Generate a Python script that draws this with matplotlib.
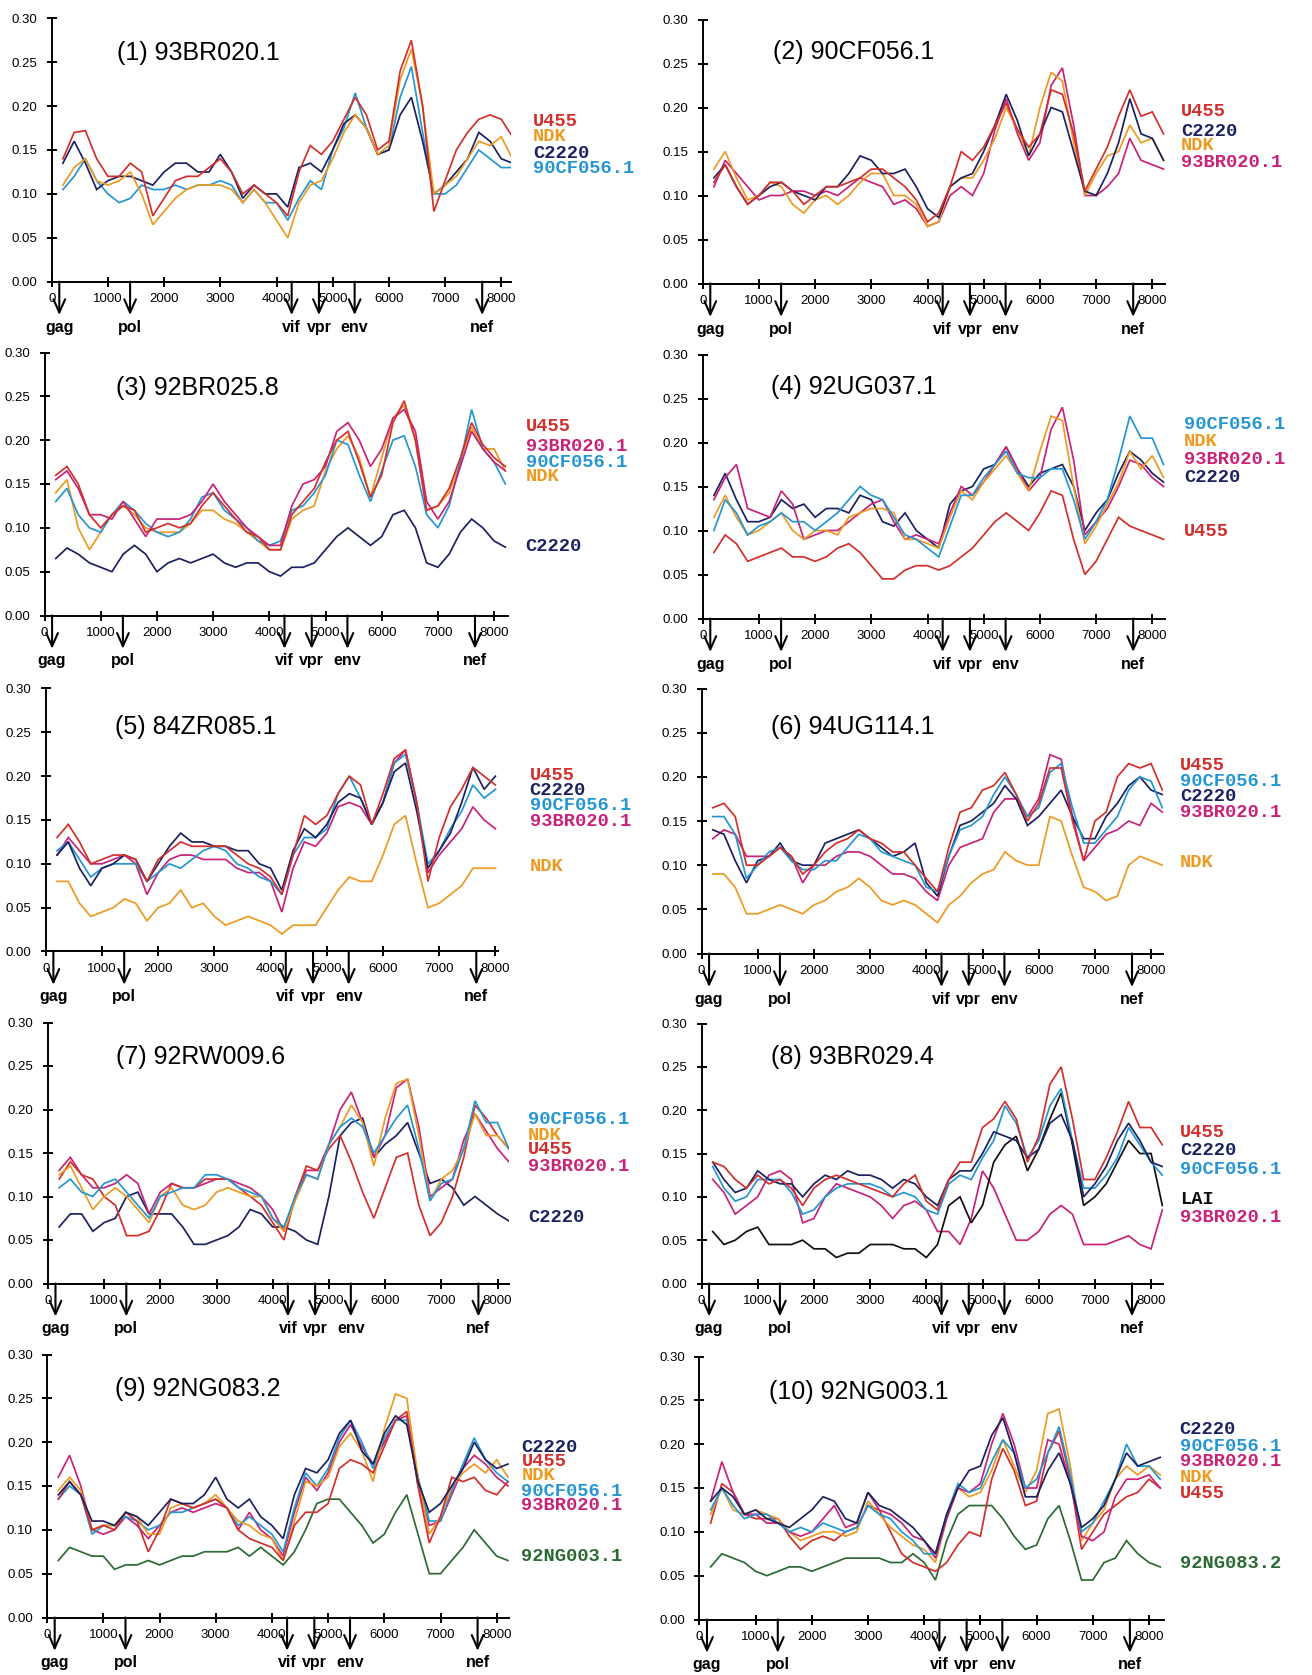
import matplotlib
matplotlib.use("Agg")
import matplotlib.pyplot as plt

plt.rcParams['font.family'] = ['Liberation Sans', 'DejaVu Sans']

# ---------------- data ----------------
positions = list(range(200, 8201, 200))      # window centres (bp)
positions_p5 = list(range(200, 8001, 200))   # panel 5 ends earlier

x_ticks = [0, 1000, 2000, 3000, 4000, 5000, 6000, 7000, 8000]
y_ticks = [0.00, 0.05, 0.10, 0.15, 0.20, 0.25, 0.30]

genes = ["gag", "pol", "vif", "vpr", "env", "nef"]
gene_starts = [135, 1395, 4270, 4755, 5390, 7660]

titles = ["(1) 93BR020.1", "(2) 90CF056.1", "(3) 92BR025.8", "(4) 92UG037.1",
          "(5) 84ZR085.1", "(6) 94UG114.1", "(7) 92RW009.6", "(8) 93BR029.4",
          "(9) 92NG083.2", "(10) 92NG003.1"]

# Panel 1
p1_U455 = [0.140, 0.170, 0.172, 0.140, 0.120, 0.120, 0.135, 0.125, 0.075, 0.095,
           0.115, 0.120, 0.120, 0.130, 0.140, 0.125, 0.100, 0.110, 0.100, 0.090,
           0.075, 0.125, 0.155, 0.145, 0.160, 0.185, 0.210, 0.190, 0.150, 0.160,
           0.240, 0.275, 0.200, 0.080, 0.115, 0.150, 0.170, 0.185, 0.190, 0.185,
           0.165]
p1_NDK = [0.110, 0.130, 0.140, 0.115, 0.110, 0.115, 0.125, 0.100, 0.065, 0.080,
          0.095, 0.105, 0.110, 0.110, 0.110, 0.105, 0.090, 0.105, 0.090, 0.070,
          0.050, 0.090, 0.110, 0.115, 0.140, 0.170, 0.190, 0.175, 0.145, 0.155,
          0.230, 0.265, 0.200, 0.100, 0.110, 0.120, 0.140, 0.160, 0.155, 0.165,
          0.140]
p1_C2220 = [0.135, 0.160, 0.135, 0.105, 0.115, 0.120, 0.120, 0.115, 0.110, 0.125,
            0.135, 0.135, 0.125, 0.125, 0.145, 0.125, 0.095, 0.110, 0.100, 0.100,
            0.085, 0.130, 0.135, 0.125, 0.150, 0.180, 0.190, 0.175, 0.145, 0.150,
            0.190, 0.210, 0.160, 0.100, 0.110, 0.125, 0.140, 0.170, 0.160, 0.140,
            0.135]
p1_90CF056 = [0.105, 0.120, 0.140, 0.115, 0.100, 0.090, 0.095, 0.110, 0.105, 0.105,
              0.110, 0.105, 0.110, 0.110, 0.115, 0.110, 0.090, 0.105, 0.090, 0.090,
              0.070, 0.095, 0.115, 0.105, 0.150, 0.175, 0.215, 0.175, 0.145, 0.150,
              0.210, 0.245, 0.170, 0.100, 0.100, 0.110, 0.130, 0.150, 0.140, 0.130,
              0.130]

# Panel 2
p2_U455 = [0.115, 0.135, 0.110, 0.090, 0.100, 0.115, 0.115, 0.105, 0.090, 0.100,
           0.110, 0.110, 0.115, 0.120, 0.130, 0.130, 0.120, 0.110, 0.095, 0.070,
           0.080, 0.110, 0.150, 0.140, 0.155, 0.180, 0.205, 0.175, 0.155, 0.170,
           0.220, 0.215, 0.170, 0.105, 0.130, 0.155, 0.190, 0.220, 0.190, 0.195,
           0.170]
p2_C2220 = [0.120, 0.135, 0.110, 0.090, 0.100, 0.110, 0.115, 0.105, 0.100, 0.095,
            0.110, 0.110, 0.125, 0.145, 0.140, 0.125, 0.125, 0.130, 0.110, 0.085,
            0.075, 0.110, 0.120, 0.125, 0.150, 0.180, 0.215, 0.185, 0.145, 0.170,
            0.200, 0.195, 0.150, 0.105, 0.100, 0.125, 0.160, 0.210, 0.170, 0.165,
            0.140]
p2_NDK = [0.130, 0.150, 0.120, 0.095, 0.100, 0.115, 0.110, 0.090, 0.080, 0.095,
          0.100, 0.090, 0.100, 0.115, 0.125, 0.125, 0.100, 0.100, 0.090, 0.065,
          0.070, 0.110, 0.120, 0.120, 0.140, 0.165, 0.200, 0.175, 0.145, 0.200,
          0.240, 0.230, 0.160, 0.100, 0.125, 0.145, 0.150, 0.180, 0.160, 0.165,
          0.140]
p2_93BR020 = [0.110, 0.140, 0.125, 0.110, 0.095, 0.100, 0.100, 0.105, 0.105, 0.100,
              0.105, 0.100, 0.110, 0.120, 0.115, 0.110, 0.090, 0.095, 0.085, 0.065,
              0.070, 0.100, 0.110, 0.100, 0.125, 0.175, 0.210, 0.170, 0.140, 0.160,
              0.225, 0.245, 0.180, 0.100, 0.100, 0.110, 0.125, 0.165, 0.140, 0.135,
              0.130]

# Panel 3
p3_U455 = [0.160, 0.170, 0.150, 0.115, 0.100, 0.115, 0.125, 0.120, 0.095, 0.100,
           0.105, 0.100, 0.105, 0.125, 0.140, 0.125, 0.110, 0.095, 0.090, 0.075,
           0.075, 0.115, 0.130, 0.145, 0.175, 0.200, 0.210, 0.175, 0.135, 0.160,
           0.220, 0.245, 0.200, 0.120, 0.125, 0.145, 0.180, 0.220, 0.195, 0.180,
           0.170]
p3_93BR020 = [0.155, 0.165, 0.145, 0.115, 0.115, 0.110, 0.130, 0.110, 0.090, 0.110,
              0.110, 0.110, 0.115, 0.130, 0.150, 0.130, 0.115, 0.100, 0.090, 0.080,
              0.080, 0.125, 0.150, 0.155, 0.170, 0.210, 0.220, 0.200, 0.170, 0.190,
              0.225, 0.235, 0.210, 0.130, 0.110, 0.130, 0.170, 0.210, 0.190, 0.175,
              0.165]
p3_90CF056 = [0.130, 0.145, 0.115, 0.100, 0.095, 0.115, 0.130, 0.120, 0.105, 0.095,
              0.090, 0.095, 0.110, 0.135, 0.140, 0.120, 0.110, 0.100, 0.085, 0.080,
              0.085, 0.120, 0.125, 0.140, 0.160, 0.200, 0.195, 0.160, 0.130, 0.165,
              0.200, 0.205, 0.170, 0.115, 0.100, 0.125, 0.175, 0.235, 0.190, 0.175,
              0.150]
p3_NDK = [0.140, 0.155, 0.100, 0.075, 0.095, 0.115, 0.125, 0.115, 0.100, 0.095,
          0.095, 0.095, 0.105, 0.120, 0.120, 0.110, 0.105, 0.095, 0.085, 0.075,
          0.075, 0.110, 0.120, 0.125, 0.165, 0.190, 0.205, 0.180, 0.135, 0.180,
          0.225, 0.240, 0.200, 0.120, 0.125, 0.140, 0.175, 0.215, 0.190, 0.190,
          0.165]
p3_C2220 = [0.065, 0.077, 0.070, 0.060, 0.055, 0.050, 0.070, 0.080, 0.070, 0.050,
            0.060, 0.065, 0.060, 0.065, 0.070, 0.060, 0.055, 0.060, 0.060, 0.050,
            0.045, 0.055, 0.055, 0.060, 0.075, 0.090, 0.100, 0.090, 0.080, 0.090,
            0.115, 0.120, 0.100, 0.060, 0.055, 0.070, 0.095, 0.110, 0.100, 0.085,
            0.078]

# Panel 4
p4_90CF056 = [0.100, 0.135, 0.120, 0.095, 0.105, 0.110, 0.120, 0.110, 0.110, 0.100,
              0.110, 0.120, 0.135, 0.150, 0.140, 0.135, 0.115, 0.095, 0.090, 0.080,
              0.070, 0.105, 0.140, 0.140, 0.160, 0.175, 0.190, 0.165, 0.160, 0.160,
              0.170, 0.170, 0.135, 0.090, 0.110, 0.135, 0.180, 0.230, 0.205, 0.205,
              0.175]
p4_NDK = [0.115, 0.140, 0.115, 0.095, 0.100, 0.110, 0.120, 0.100, 0.090, 0.100,
          0.100, 0.095, 0.115, 0.120, 0.125, 0.125, 0.120, 0.090, 0.090, 0.085,
          0.080, 0.115, 0.145, 0.135, 0.155, 0.170, 0.185, 0.165, 0.145, 0.190,
          0.230, 0.225, 0.150, 0.085, 0.105, 0.130, 0.155, 0.190, 0.170, 0.185,
          0.160]
p4_93BR020 = [0.135, 0.160, 0.175, 0.125, 0.120, 0.115, 0.145, 0.130, 0.090, 0.095,
              0.100, 0.100, 0.110, 0.120, 0.130, 0.135, 0.110, 0.090, 0.095, 0.090,
              0.085, 0.120, 0.150, 0.140, 0.155, 0.175, 0.195, 0.170, 0.145, 0.160,
              0.215, 0.240, 0.180, 0.095, 0.110, 0.125, 0.150, 0.180, 0.175, 0.160,
              0.150]
p4_C2220 = [0.140, 0.165, 0.135, 0.110, 0.110, 0.115, 0.135, 0.125, 0.130, 0.115,
            0.125, 0.125, 0.120, 0.140, 0.135, 0.110, 0.105, 0.120, 0.100, 0.090,
            0.080, 0.130, 0.145, 0.150, 0.170, 0.175, 0.195, 0.170, 0.150, 0.165,
            0.170, 0.175, 0.150, 0.100, 0.120, 0.135, 0.165, 0.190, 0.180, 0.165,
            0.155]
p4_U455 = [0.075, 0.095, 0.085, 0.065, 0.070, 0.075, 0.080, 0.070, 0.070, 0.065,
           0.070, 0.080, 0.085, 0.075, 0.060, 0.045, 0.045, 0.055, 0.060, 0.060,
           0.055, 0.060, 0.070, 0.080, 0.095, 0.110, 0.120, 0.110, 0.100, 0.120,
           0.145, 0.140, 0.090, 0.050, 0.065, 0.090, 0.115, 0.105, 0.100, 0.095,
           0.090]

# Panel 5 (40 windows)
p5_U455 = [0.130, 0.145, 0.125, 0.100, 0.105, 0.110, 0.110, 0.105, 0.080, 0.105,
           0.115, 0.125, 0.120, 0.120, 0.120, 0.120, 0.110, 0.100, 0.095, 0.085,
           0.065, 0.110, 0.155, 0.145, 0.155, 0.180, 0.200, 0.190, 0.145, 0.180,
           0.220, 0.230, 0.170, 0.080, 0.130, 0.165, 0.185, 0.210, 0.200, 0.190]
p5_C2220 = [0.110, 0.125, 0.095, 0.075, 0.095, 0.100, 0.110, 0.105, 0.080, 0.100,
            0.120, 0.135, 0.125, 0.125, 0.120, 0.120, 0.115, 0.115, 0.100, 0.095,
            0.070, 0.115, 0.140, 0.130, 0.145, 0.170, 0.180, 0.175, 0.145, 0.170,
            0.205, 0.215, 0.160, 0.095, 0.115, 0.135, 0.170, 0.210, 0.185, 0.200]
p5_90CF056 = [0.115, 0.125, 0.105, 0.085, 0.095, 0.100, 0.100, 0.100, 0.080, 0.090,
              0.100, 0.095, 0.105, 0.115, 0.120, 0.115, 0.100, 0.095, 0.085, 0.080,
              0.065, 0.110, 0.130, 0.130, 0.140, 0.180, 0.200, 0.175, 0.145, 0.170,
              0.215, 0.225, 0.170, 0.100, 0.115, 0.140, 0.160, 0.190, 0.175, 0.185]
p5_93BR020 = [0.110, 0.130, 0.115, 0.100, 0.100, 0.105, 0.110, 0.100, 0.065, 0.090,
              0.105, 0.110, 0.110, 0.105, 0.105, 0.105, 0.095, 0.090, 0.090, 0.080,
              0.045, 0.095, 0.125, 0.120, 0.135, 0.165, 0.170, 0.165, 0.145, 0.170,
              0.215, 0.230, 0.170, 0.090, 0.110, 0.125, 0.140, 0.165, 0.150, 0.140]
p5_NDK = [0.080, 0.080, 0.055, 0.040, 0.045, 0.050, 0.060, 0.055, 0.035, 0.050,
          0.055, 0.070, 0.050, 0.055, 0.040, 0.030, 0.035, 0.040, 0.035, 0.030,
          0.020, 0.030, 0.030, 0.030, 0.050, 0.070, 0.085, 0.080, 0.080, 0.110,
          0.145, 0.155, 0.100, 0.050, 0.055, 0.065, 0.075, 0.095, 0.095, 0.095]

# Panel 6
p6_U455 = [0.165, 0.170, 0.155, 0.100, 0.100, 0.110, 0.120, 0.110, 0.090, 0.100,
           0.115, 0.125, 0.130, 0.140, 0.130, 0.125, 0.115, 0.115, 0.100, 0.085,
           0.070, 0.120, 0.160, 0.165, 0.185, 0.190, 0.205, 0.180, 0.150, 0.170,
           0.210, 0.210, 0.150, 0.105, 0.150, 0.160, 0.200, 0.215, 0.210, 0.215,
           0.185]
p6_90CF056 = [0.155, 0.155, 0.135, 0.085, 0.100, 0.115, 0.120, 0.105, 0.095, 0.095,
              0.105, 0.105, 0.120, 0.135, 0.130, 0.115, 0.110, 0.105, 0.100, 0.075,
              0.070, 0.110, 0.140, 0.145, 0.155, 0.180, 0.200, 0.180, 0.155, 0.165,
              0.205, 0.215, 0.165, 0.125, 0.125, 0.140, 0.155, 0.185, 0.200, 0.195,
              0.165]
p6_C2220 = [0.140, 0.135, 0.105, 0.080, 0.105, 0.110, 0.125, 0.105, 0.100, 0.100,
            0.125, 0.130, 0.135, 0.140, 0.130, 0.120, 0.110, 0.115, 0.125, 0.080,
            0.065, 0.110, 0.145, 0.150, 0.160, 0.170, 0.190, 0.175, 0.145, 0.155,
            0.170, 0.185, 0.155, 0.130, 0.130, 0.155, 0.170, 0.190, 0.200, 0.185,
            0.180]
p6_93BR020 = [0.130, 0.140, 0.135, 0.110, 0.110, 0.110, 0.120, 0.110, 0.080, 0.100,
              0.100, 0.110, 0.115, 0.115, 0.110, 0.100, 0.090, 0.090, 0.085, 0.070,
              0.060, 0.100, 0.120, 0.125, 0.130, 0.160, 0.175, 0.175, 0.155, 0.175,
              0.225, 0.220, 0.155, 0.105, 0.120, 0.135, 0.140, 0.150, 0.145, 0.170,
              0.160]
p6_NDK = [0.090, 0.090, 0.075, 0.045, 0.045, 0.050, 0.055, 0.050, 0.045, 0.055,
          0.060, 0.070, 0.075, 0.085, 0.075, 0.060, 0.055, 0.060, 0.055, 0.045,
          0.035, 0.055, 0.065, 0.080, 0.090, 0.095, 0.115, 0.105, 0.100, 0.100,
          0.155, 0.150, 0.110, 0.075, 0.070, 0.060, 0.065, 0.100, 0.110, 0.105,
          0.100]

# Panel 7
p7_90CF056 = [0.110, 0.120, 0.105, 0.100, 0.115, 0.120, 0.105, 0.090, 0.075, 0.100,
              0.105, 0.110, 0.110, 0.125, 0.125, 0.120, 0.110, 0.105, 0.100, 0.075,
              0.065, 0.100, 0.125, 0.120, 0.160, 0.180, 0.190, 0.180, 0.150, 0.170,
              0.190, 0.205, 0.155, 0.095, 0.115, 0.120, 0.155, 0.210, 0.185, 0.185,
              0.155]
p7_NDK = [0.125, 0.135, 0.110, 0.085, 0.100, 0.110, 0.100, 0.085, 0.070, 0.100,
          0.110, 0.090, 0.085, 0.090, 0.105, 0.110, 0.105, 0.100, 0.100, 0.075,
          0.060, 0.095, 0.125, 0.120, 0.160, 0.180, 0.205, 0.185, 0.135, 0.190,
          0.230, 0.235, 0.170, 0.095, 0.120, 0.130, 0.155, 0.195, 0.170, 0.170,
          0.155]
p7_U455 = [0.120, 0.140, 0.125, 0.120, 0.100, 0.090, 0.055, 0.055, 0.060, 0.085,
           0.115, 0.110, 0.110, 0.120, 0.120, 0.120, 0.110, 0.100, 0.090, 0.070,
           0.050, 0.100, 0.135, 0.130, 0.155, 0.170, 0.140, 0.105, 0.075, 0.110,
           0.145, 0.150, 0.090, 0.055, 0.070, 0.100, 0.145, 0.205, 0.190, 0.170,
           0.155]
p7_93BR020 = [0.130, 0.145, 0.125, 0.110, 0.110, 0.115, 0.125, 0.115, 0.080, 0.105,
              0.115, 0.110, 0.110, 0.115, 0.120, 0.120, 0.115, 0.110, 0.100, 0.085,
              0.060, 0.100, 0.130, 0.130, 0.160, 0.200, 0.220, 0.185, 0.145, 0.170,
              0.225, 0.235, 0.180, 0.100, 0.110, 0.120, 0.165, 0.195, 0.175, 0.155,
              0.140]
p7_C2220 = [0.065, 0.080, 0.080, 0.060, 0.070, 0.075, 0.100, 0.105, 0.080, 0.080,
            0.080, 0.065, 0.045, 0.045, 0.050, 0.055, 0.065, 0.085, 0.080, 0.065,
            0.065, 0.060, 0.050, 0.045, 0.100, 0.170, 0.185, 0.190, 0.145, 0.160,
            0.170, 0.185, 0.150, 0.115, 0.120, 0.110, 0.090, 0.100, 0.090, 0.080,
            0.072]

# Panel 8
p8_U455 = [0.140, 0.135, 0.120, 0.110, 0.125, 0.115, 0.120, 0.110, 0.090, 0.110,
           0.120, 0.125, 0.120, 0.115, 0.110, 0.105, 0.100, 0.115, 0.125, 0.095,
           0.085, 0.120, 0.140, 0.140, 0.180, 0.190, 0.210, 0.190, 0.140, 0.170,
           0.230, 0.250, 0.190, 0.120, 0.120, 0.145, 0.175, 0.210, 0.180, 0.180,
           0.160]
p8_C2220 = [0.140, 0.120, 0.105, 0.110, 0.130, 0.120, 0.115, 0.115, 0.100, 0.115,
            0.125, 0.120, 0.130, 0.125, 0.125, 0.120, 0.110, 0.120, 0.115, 0.100,
            0.090, 0.120, 0.130, 0.130, 0.150, 0.175, 0.170, 0.165, 0.145, 0.155,
            0.185, 0.195, 0.165, 0.100, 0.115, 0.135, 0.165, 0.185, 0.165, 0.140,
            0.135]
p8_90CF056 = [0.135, 0.110, 0.095, 0.100, 0.120, 0.120, 0.120, 0.105, 0.080, 0.085,
              0.100, 0.110, 0.115, 0.115, 0.115, 0.110, 0.100, 0.105, 0.100, 0.085,
              0.080, 0.115, 0.125, 0.120, 0.145, 0.165, 0.205, 0.185, 0.145, 0.165,
              0.205, 0.225, 0.165, 0.110, 0.110, 0.125, 0.145, 0.180, 0.160, 0.140,
              0.125]
p8_LAI = [0.060, 0.045, 0.050, 0.060, 0.065, 0.045, 0.045, 0.045, 0.050, 0.040,
          0.040, 0.030, 0.035, 0.035, 0.045, 0.045, 0.045, 0.040, 0.040, 0.030,
          0.045, 0.090, 0.100, 0.070, 0.090, 0.140, 0.160, 0.170, 0.130, 0.155,
          0.190, 0.220, 0.160, 0.090, 0.100, 0.115, 0.140, 0.165, 0.150, 0.150,
          0.090]
p8_93BR020 = [0.120, 0.105, 0.080, 0.090, 0.100, 0.125, 0.130, 0.120, 0.070, 0.075,
              0.100, 0.115, 0.110, 0.105, 0.100, 0.090, 0.075, 0.090, 0.095, 0.085,
              0.060, 0.060, 0.045, 0.075, 0.130, 0.110, 0.080, 0.050, 0.050, 0.060,
              0.080, 0.090, 0.080, 0.045, 0.045, 0.045, 0.050, 0.055, 0.045, 0.040,
              0.085]

# Panel 9
p9_C2220 = [0.140, 0.155, 0.140, 0.110, 0.110, 0.105, 0.120, 0.115, 0.105, 0.120,
            0.135, 0.130, 0.130, 0.140, 0.160, 0.135, 0.125, 0.135, 0.115, 0.105,
            0.090, 0.140, 0.170, 0.165, 0.180, 0.210, 0.225, 0.190, 0.175, 0.210,
            0.230, 0.220, 0.155, 0.120, 0.130, 0.150, 0.170, 0.200, 0.180, 0.170,
            0.175]
p9_U455 = [0.135, 0.155, 0.140, 0.100, 0.105, 0.100, 0.120, 0.110, 0.075, 0.100,
           0.135, 0.130, 0.125, 0.130, 0.135, 0.125, 0.100, 0.090, 0.085, 0.080,
           0.065, 0.105, 0.120, 0.120, 0.130, 0.170, 0.180, 0.175, 0.165, 0.195,
           0.225, 0.235, 0.150, 0.085, 0.115, 0.160, 0.155, 0.160, 0.145, 0.140,
           0.155]
p9_NDK = [0.145, 0.160, 0.145, 0.100, 0.105, 0.105, 0.120, 0.115, 0.095, 0.095,
          0.125, 0.130, 0.125, 0.130, 0.140, 0.125, 0.110, 0.105, 0.095, 0.090,
          0.065, 0.110, 0.155, 0.150, 0.160, 0.195, 0.210, 0.190, 0.155, 0.215,
          0.255, 0.250, 0.160, 0.095, 0.115, 0.150, 0.165, 0.175, 0.165, 0.180,
          0.160]
p9_90CF056 = [0.135, 0.150, 0.140, 0.095, 0.105, 0.105, 0.115, 0.110, 0.100, 0.105,
              0.120, 0.120, 0.125, 0.130, 0.135, 0.125, 0.105, 0.115, 0.105, 0.095,
              0.075, 0.125, 0.165, 0.150, 0.170, 0.205, 0.225, 0.200, 0.170, 0.205,
              0.225, 0.225, 0.160, 0.110, 0.110, 0.145, 0.175, 0.205, 0.180, 0.165,
              0.155]
p9_93BR020 = [0.160, 0.185, 0.150, 0.100, 0.095, 0.100, 0.115, 0.105, 0.090, 0.105,
              0.120, 0.125, 0.120, 0.125, 0.130, 0.125, 0.100, 0.120, 0.100, 0.090,
              0.070, 0.120, 0.160, 0.145, 0.165, 0.200, 0.220, 0.195, 0.175, 0.200,
              0.225, 0.230, 0.150, 0.105, 0.110, 0.140, 0.170, 0.185, 0.175, 0.160,
              0.150]
p9_92NG003 = [0.065, 0.080, 0.075, 0.070, 0.070, 0.055, 0.060, 0.060, 0.065, 0.060,
              0.065, 0.070, 0.070, 0.075, 0.075, 0.075, 0.080, 0.070, 0.080, 0.070,
              0.060, 0.075, 0.100, 0.130, 0.135, 0.135, 0.120, 0.105, 0.085, 0.095,
              0.120, 0.140, 0.095, 0.050, 0.050, 0.065, 0.080, 0.100, 0.085, 0.070,
              0.065]

# Panel 10
p10_C2220 = [0.135, 0.150, 0.140, 0.120, 0.125, 0.115, 0.110, 0.105, 0.115, 0.125,
             0.140, 0.135, 0.115, 0.110, 0.145, 0.130, 0.125, 0.115, 0.105, 0.090,
             0.075, 0.120, 0.150, 0.170, 0.175, 0.210, 0.230, 0.190, 0.140, 0.140,
             0.170, 0.190, 0.155, 0.105, 0.115, 0.130, 0.160, 0.190, 0.175, 0.180,
             0.185]
p10_90CF056 = [0.125, 0.150, 0.130, 0.115, 0.120, 0.120, 0.110, 0.100, 0.105, 0.100,
               0.110, 0.105, 0.100, 0.105, 0.130, 0.120, 0.115, 0.100, 0.090, 0.075,
               0.075, 0.120, 0.155, 0.145, 0.150, 0.180, 0.205, 0.190, 0.150, 0.160,
               0.190, 0.220, 0.165, 0.100, 0.110, 0.135, 0.160, 0.200, 0.175, 0.175,
               0.160]
p10_93BR020 = [0.135, 0.180, 0.145, 0.120, 0.120, 0.110, 0.110, 0.100, 0.095, 0.100,
               0.115, 0.130, 0.105, 0.110, 0.145, 0.125, 0.120, 0.110, 0.095, 0.090,
               0.070, 0.115, 0.150, 0.145, 0.155, 0.200, 0.235, 0.200, 0.150, 0.150,
               0.205, 0.200, 0.155, 0.095, 0.090, 0.100, 0.140, 0.160, 0.160, 0.165,
               0.150]
p10_NDK = [0.120, 0.150, 0.125, 0.120, 0.125, 0.120, 0.115, 0.100, 0.090, 0.095,
           0.100, 0.100, 0.095, 0.100, 0.135, 0.120, 0.105, 0.095, 0.085, 0.080,
           0.065, 0.115, 0.150, 0.140, 0.145, 0.170, 0.205, 0.175, 0.145, 0.170,
           0.235, 0.240, 0.175, 0.090, 0.110, 0.125, 0.160, 0.175, 0.165, 0.175,
           0.165]
p10_U455 = [0.110, 0.155, 0.145, 0.120, 0.115, 0.115, 0.115, 0.095, 0.080, 0.090,
            0.095, 0.090, 0.100, 0.105, 0.130, 0.125, 0.100, 0.075, 0.065, 0.060,
            0.055, 0.065, 0.085, 0.100, 0.095, 0.160, 0.195, 0.170, 0.130, 0.135,
            0.190, 0.215, 0.160, 0.080, 0.100, 0.120, 0.130, 0.140, 0.145, 0.160,
            0.150]
p10_92NG083 = [0.060, 0.075, 0.070, 0.065, 0.055, 0.050, 0.055, 0.060, 0.060, 0.055,
               0.060, 0.065, 0.070, 0.070, 0.070, 0.070, 0.065, 0.065, 0.075, 0.065,
               0.045, 0.090, 0.120, 0.130, 0.130, 0.130, 0.115, 0.095, 0.080, 0.085,
               0.115, 0.130, 0.090, 0.045, 0.045, 0.065, 0.070, 0.090, 0.075, 0.065,
               0.060]

# series per panel (label, values), in the order of the right-hand labels
panel_series = [
    [("U455", p1_U455), ("NDK", p1_NDK), ("C2220", p1_C2220), ("90CF056.1", p1_90CF056)],
    [("U455", p2_U455), ("C2220", p2_C2220), ("NDK", p2_NDK), ("93BR020.1", p2_93BR020)],
    [("U455", p3_U455), ("93BR020.1", p3_93BR020), ("90CF056.1", p3_90CF056), ("NDK", p3_NDK), ("C2220", p3_C2220)],
    [("90CF056.1", p4_90CF056), ("NDK", p4_NDK), ("93BR020.1", p4_93BR020), ("C2220", p4_C2220), ("U455", p4_U455)],
    [("U455", p5_U455), ("C2220", p5_C2220), ("90CF056.1", p5_90CF056), ("93BR020.1", p5_93BR020), ("NDK", p5_NDK)],
    [("U455", p6_U455), ("90CF056.1", p6_90CF056), ("C2220", p6_C2220), ("93BR020.1", p6_93BR020), ("NDK", p6_NDK)],
    [("90CF056.1", p7_90CF056), ("NDK", p7_NDK), ("U455", p7_U455), ("93BR020.1", p7_93BR020), ("C2220", p7_C2220)],
    [("U455", p8_U455), ("C2220", p8_C2220), ("90CF056.1", p8_90CF056), ("LAI", p8_LAI), ("93BR020.1", p8_93BR020)],
    [("C2220", p9_C2220), ("U455", p9_U455), ("NDK", p9_NDK), ("90CF056.1", p9_90CF056), ("93BR020.1", p9_93BR020), ("92NG003.1", p9_92NG003)],
    [("C2220", p10_C2220), ("90CF056.1", p10_90CF056), ("93BR020.1", p10_93BR020), ("NDK", p10_NDK), ("U455", p10_U455), ("92NG083.2", p10_92NG083)],
]

# ---------------- styling / layout ----------------
COLORS = {
    "U455": "#d2302c",
    "NDK": "#ec9a22",
    "C2220": "#1c2260",
    "90CF056.1": "#2596d2",
    "93BR020.1": "#c82378",
    "LAI": "#111111",
    "92NG003.1": "#2c6a34",
    "92NG083.2": "#2c6a34",
}

W, H = 1312, 1675
PX_PER_BP = 0.0562
# (left px, top px, bottom px, xmax bp) per panel
panel_boxes = [
    (51.7, 18.3, 281.7, 8180), (702.7, 19.5, 283.5, 8230),
    (44.5, 352.5, 615.5, 8240), (702.7, 354.5, 618.5, 8230),
    (45.8, 688.5, 951.5, 8050), (701.5, 688.5, 953.5, 8220),
    (47.9, 1022.5, 1283.5, 8200), (701.5, 1023.5, 1283.5, 8220),
    (47.1, 1354.5, 1617.5, 8220), (699.4, 1356.5, 1619.5, 8270),
]
title_xy = [(1160, 0.261), (1250, 0.263), (1265, 0.260), (1215, 0.263), (1230, 0.256),
            (1235, 0.256), (1205, 0.260), (1235, 0.261), (1205, 0.261), (1235, 0.260)]
# y positions of right-hand labels
label_y = [
    [0.182, 0.165, 0.146, 0.129],
    [0.195, 0.173, 0.157, 0.137],
    [0.2155, 0.193, 0.175, 0.158, 0.079],
    [0.221, 0.201, 0.181, 0.160, 0.099],
    [0.201, 0.184, 0.166, 0.148, 0.097],
    [0.213, 0.195, 0.178, 0.160, 0.103],
    [0.188, 0.170, 0.154, 0.135, 0.076],
    [0.174, 0.153, 0.131, 0.097, 0.076],
    [0.194, 0.178, 0.162, 0.144, 0.128, 0.070],
    [0.217, 0.197, 0.180, 0.162, 0.144, 0.064],
]
label_x = [8560, 8510, 8560, 8560, 8610, 8510, 8540, 8510, 8440, 8545]

fig = plt.figure(figsize=(W / 100, H / 100), dpi=100)
fig.patch.set_facecolor("white")

for i in range(10):
    left, top, bottom, xmax = panel_boxes[i]
    width = xmax * PX_PER_BP
    ax = fig.add_axes([left / W, 1 - bottom / H, width / W, (bottom - top) / H])
    xs = positions_p5 if i == 4 else positions
    series = panel_series[i]
    for name, vals in reversed(series):
        ax.plot(xs, vals, color=COLORS[name], lw=1.25, solid_joinstyle="miter")
    ax.set_xlim(0, xmax)
    ax.set_ylim(0, 0.30)
    for s in ("top", "right"):
        ax.spines[s].set_visible(False)
    for s in ("left", "bottom"):
        ax.spines[s].set_linewidth(1.4)
    ax.set_xticks(x_ticks)
    ax.set_xticklabels([str(t) for t in x_ticks])
    ax.set_yticks(y_ticks)
    ax.set_yticklabels([f"{t:.2f}" for t in y_ticks])
    ax.tick_params(direction="inout", length=7.5, width=1.4, labelsize=9.5)
    ax.tick_params(axis="x", pad=4.5)
    ax.tick_params(axis="y", pad=6.5)

    tx, ty = title_xy[i]
    ax.text(tx, ty, titles[i], fontsize=18, ha="left", va="center")

    for (name, _), ly in zip(series, label_y[i]):
        ax.text(label_x[i], ly, name, color=COLORS[name], fontsize=13.5,
                family=["Liberation Mono", "DejaVu Sans Mono"], fontweight="bold",
                ha="left", va="center", clip_on=False)

    for g, gx in zip(genes, gene_starts):
        ax.annotate("", xy=(gx, -0.038), xytext=(gx, 0.0), xycoords="data",
                    arrowprops=dict(arrowstyle="->,head_length=0.95,head_width=0.42",
                                    lw=1.5, color="black", shrinkA=0, shrinkB=0),
                    annotation_clip=False)
        ax.text(gx, -0.057, g, fontsize=11.5, fontweight="bold", ha="center",
                va="baseline", clip_on=False)

fig.savefig("out.png", dpi=100, facecolor="white")
